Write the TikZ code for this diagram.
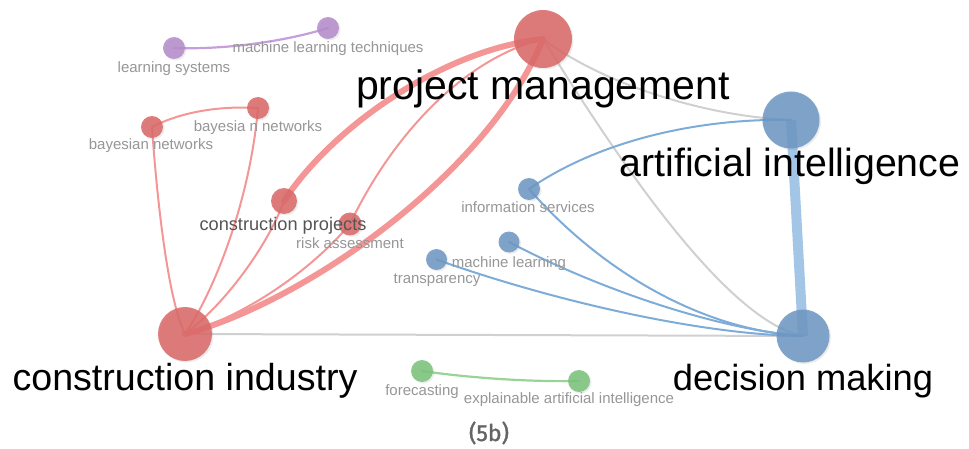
\documentclass[tikz,border=0pt]{standalone}
\usepackage{fontspec}
\setmainfont{Liberation Sans}
\newfontfamily\capfont[FakeBold=1.6]{Fira Sans}
\usetikzlibrary{shadows}
\pgfdeclarelayer{bg}
\pgfsetlayers{bg,main}
\definecolor{rnode}{RGB}{218,104,104}
\definecolor{bnode}{RGB}{108,150,194}
\definecolor{pnode}{RGB}{180,140,202}
\definecolor{gnode}{RGB}{122,194,122}
\definecolor{redgec}{RGB}{245,150,150}
\definecolor{bedgec}{RGB}{125,172,216}
\definecolor{bthick}{RGB}{164,198,230}
\definecolor{gedgec}{RGB}{208,208,208}
\definecolor{pedgec}{RGB}{198,158,220}
\definecolor{grnedgec}{RGB}{152,212,152}
\definecolor{labgray}{RGB}{150,150,150}
\definecolor{labdark}{RGB}{85,85,85}
\definecolor{capgray}{RGB}{100,100,100}
\tikzset{
  kw/.style={circle, inner sep=0pt, draw=none, fill opacity=0.86,
    drop shadow={opacity=0.15, shadow xshift=1.5pt, shadow yshift=-1.5pt}},
  biglab/.style={font=\fontsize{#1}{#1}\selectfont, text=black, anchor=base, inner sep=0pt},
  smalllab/.style={font=\fontsize{15}{15}\selectfont, text=labgray, anchor=base, inner sep=0pt},
  redge/.style={draw=redgec, line width=2pt, line cap=round},
  redgethick/.style={draw=redgec, line width=6pt, line cap=round},
  bedge/.style={draw=bedgec, line width=2pt, line cap=round},
  gedge/.style={draw=gedgec, line width=2pt, line cap=round},
  pedge/.style={draw=pedgec, line width=2.2pt, line cap=round},
  grnedge/.style={draw=grnedgec, line width=2.2pt, line cap=round}
}
\begin{document}
\begin{tikzpicture}[x=1pt,y=-1pt]
\useasboundingbox (0,0) rectangle (969,449);
% nodes
\node[kw, fill=rnode, minimum size=58pt] (pm) at (543,39) {};
\node[kw, fill=bnode, minimum size=57pt] (ai) at (791,120) {};
\node[kw, fill=bnode, minimum size=53pt] (dm) at (803,336) {};
\node[kw, fill=rnode, minimum size=54pt] (ci) at (185,334) {};
\node[kw, fill=rnode, minimum size=26pt] (cp) at (284,201) {};
\node[kw, fill=rnode, minimum size=23pt] (ra) at (350,224) {};
\node[kw, fill=rnode, minimum size=22pt] (bn1) at (152,127) {};
\node[kw, fill=rnode, minimum size=22pt] (bn2) at (258,108) {};
\node[kw, fill=pnode, minimum size=22pt] (ls) at (174,48) {};
\node[kw, fill=pnode, minimum size=22pt] (mlt) at (328,28) {};
\node[kw, fill=bnode, minimum size=22pt] (is) at (529,189) {};
\node[kw, fill=bnode, minimum size=21pt] (ml) at (509,242) {};
\node[kw, fill=bnode, minimum size=21pt] (tr) at (436.5,259.5) {};
\node[kw, fill=gnode, minimum size=22pt] (fc) at (422,371) {};
\node[kw, fill=gnode, minimum size=22pt] (xai) at (579,381) {};
% edges
\begin{pgfonlayer}{bg}
\draw[gedge] (ci.center) -- (dm.center);
\draw[gedge] (pm.center) .. controls (600,82) and (700,116) .. (ai.center);
\draw[gedge] (pm.center) .. controls (600,130) and (720,320) .. (dm.center);
\draw[redge] (ci.center) .. controls (168,300) and (157,200) .. (bn1.center);
\draw[redge] (ci.center) .. controls (215,290) and (250,200) .. (bn2.center);
\draw[redge] (ci.center) .. controls (230,300) and (270,240) .. (cp.center);
\draw[redge] (ci.center) .. controls (260,310) and (320,260) .. (ra.center);
\draw[redgethick] (ci.center) .. controls (310,300) and (490,170) .. (pm.center);
\draw[redgethick] (cp.center) .. controls (330,130) and (440,50) .. (pm.center);
\draw[redge] (ra.center) .. controls (390,140) and (460,60) .. (pm.center);
\draw[redge] (bn1.center) .. controls (185,110) and (225,106) .. (bn2.center);
\draw[draw=bthick, line width=10pt] (ai.center) -- (dm.center);
\draw[bedge] (is.center) .. controls (600,140) and (700,118) .. (ai.center);
\draw[bedge] (is.center) .. controls (600,270) and (700,330) .. (dm.center);
\draw[bedge] (ml.center) .. controls (600,290) and (720,330) .. (dm.center);
\draw[bedge] (tr.center) .. controls (550,300) and (700,335) .. (dm.center);
\draw[pedge] (ls.center) .. controls (230,50) and (290,40) .. (mlt.center);
\draw[grnedge] (fc.center) .. controls (470,378) and (530,382) .. (xai.center);
\end{pgfonlayer}
% labels
\node[biglab=41] (pml) at (543,100) {project management};
\node[biglab=39.3] (ail) at (790,177) {artificial intelligence};
\node[biglab=37.6] (cil) at (185,390) {construction industry};
\node[biglab=36.3] (dml) at (803,390) {decision making};
\node[smalllab, font=\fontsize{18.2}{18}\selectfont, text=labdark] (cpl) at (283,230) {construction projects};
\node[smalllab] (ral) at (350,248) {risk assessment};
\node[smalllab] (bn1l) at (151,150) {bayesian networks};
\node[smalllab] (bn2l) at (258,132) {bayesia n networks};
\node[smalllab] (lsl) at (174,73) {learning systems};
\node[smalllab] (mltl) at (328,53) {machine learning techniques};
\node[smalllab] (isl) at (528,213) {information services};
\node[smalllab] (mll) at (509,267) {machine learning};
\node[smalllab] (trl) at (437,283) {transparency};
\node[smalllab] (fcl) at (422,395) {forecasting};
\node[smalllab] (xail) at (569,403) {explainable artificial intelligence};
\node[anchor=base, inner sep=0pt, text=capgray, font=\capfont\fontsize{23}{23}\selectfont] (cap) at (489,441) {(5b)};
\end{tikzpicture}
\end{document}
